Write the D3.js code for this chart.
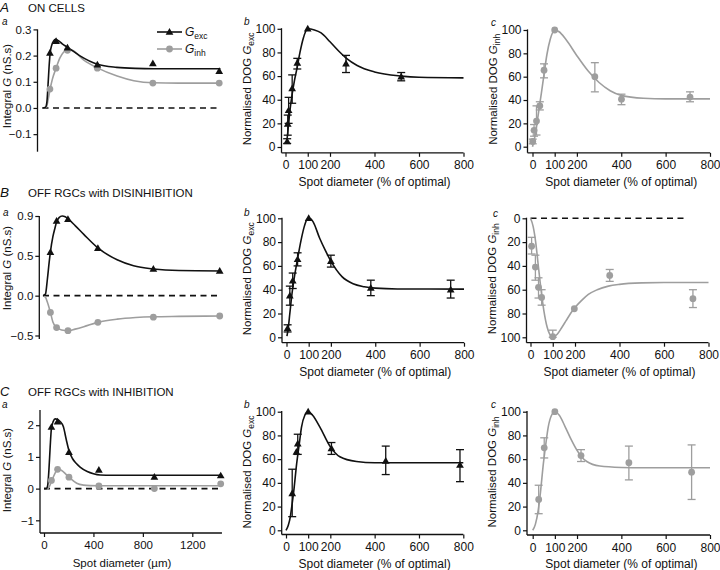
<!DOCTYPE html>
<html><head><meta charset="utf-8">
<script src="https://cdn.jsdelivr.net/npm/d3@7"></script>
<style>
body{margin:0;background:#fff}
svg text{font-family:"Liberation Sans",Arial,Helvetica,sans-serif;fill:#111}
</style></head><body>
<svg id="c" width="720" height="570"></svg>
<script>
// ---------- DATA ----------
const aDiam = [60, 110, 202, 444, 893, 1430];           // spot diameter (µm)
const umTicks = [0, 400, 800, 1200];
const pctTicks = [0, 100, 200, 400, 600, 800];
const normTicks = [0, 20, 40, 60, 80, 100];

// A: ON cells
const onATicks = [0.3, 0.2, 0.1, 0.0, -0.1];
const onATickLabels = ["0.3", "0.2", "0.1", "0.0", "\u22120.1"];
const onExc = [0.21, 0.255, 0.23, 0.165, 0.17, 0.14];
const onInh = [0.072, 0.152, 0.22, 0.152, 0.095, 0.095];
const onExcFit = [[0,0],[25,0.003],[35,0.02],[45,0.09],[55,0.17],[62,0.21],[75,0.24],[90,0.256],[105,0.262],[125,0.258],[160,0.245],[202,0.232],[300,0.2],[444,0.167],[600,0.155],[750,0.151],[900,0.15],[1440,0.15]];
const onInhFit = [[0,0],[30,0.003],[45,0.03],[60,0.068],[80,0.11],[110,0.152],[140,0.19],[170,0.213],[200,0.222],[240,0.22],[334,0.183],[444,0.153],[604,0.122],[739,0.104],[898,0.096],[1100,0.095],[1440,0.095]];
const onB_x = [7.5, 10, 14, 30, 53, 100, 272, 520];
const onB_y = [4.7, 19.5, 31, 49.5, 71, 100, 70.5, 59.5];
const onB_lo = [3, 10, 20, 37, 66, 100, 63, 56];
const onB_hi = [7, 27, 42, 61, 75, 100, 77.5, 63];
const onB_fit = [[5,3],[10,12],[15,22],[20,31],[30,45],[40,56],[52,67],[65,80],[80,92],[90,97.5],[100,100],[130,99],[160,96.5],[200,89],[240,81],[274,75],[322,69],[400,63.5],[520,60],[600,59],[800,58.5]];
const onC_x = [1, 7, 18, 33, 52, 100, 281, 401, 710];
const onC_y = [4.5, 14, 22, 35, 65.5, 100, 60, 40.7, 42.5];
const onC_lo = [2.5, 9, 10, 31.5, 59, 100, 47, 36, 38.5];
const onC_hi = [6.5, 19, 35, 38.5, 71, 100, 72, 45, 47];
const onC_fit = [[0,0],[10,8],[20,20],[30,33],[40,46],[52,62],[65,79],[80,92],[100,100],[120,98.5],[150,92],[200,78],[250,65],[300,55],[350,48],[400,44],[500,41.5],[600,41],[800,41]];

// B: OFF RGCs with disinhibition
const disATicks = [1.0, 0.5, 0.0, -0.5];
const disATickLabels = ["0.9", "0.5", "0.0", "\u22120.5"];
const disExc = [0.545, 0.938, 0.96, 0.595, 0.335, 0.31];
const disInh = [-0.21, -0.40, -0.44, -0.335, -0.27, -0.255];
const disExcFit = [[0,0],[20,0.02],[35,0.2],[50,0.42],[60,0.55],[80,0.74],[97,0.85],[111,0.93],[130,0.98],[155,1.0],[180,0.99],[205,0.96],[260,0.88],[330,0.77],[444,0.6],[600,0.45],[733,0.375],[893,0.335],[1100,0.315],[1440,0.31]];
const disInhFit = [[0,0],[20,-0.02],[35,-0.08],[60,-0.21],[80,-0.33],[110,-0.40],[150,-0.43],[205,-0.44],[260,-0.42],[330,-0.39],[444,-0.335],[600,-0.295],[750,-0.275],[893,-0.265],[1100,-0.26],[1440,-0.255]];
const disB_x = [5, 15, 28, 50, 100, 200, 380, 740];
const disB_y = [7.5, 35, 47.5, 65.5, 100, 64, 41.5, 40];
const disB_lo = [4.5, 27, 41, 60, 100, 59, 35, 33];
const disB_hi = [10.5, 43, 54, 71, 100, 69, 48, 48];
const disB_fit = [[2,1],[8,8],[15,20],[25,37],[35,50],[50,66],[65,81],[80,93],[92,99],[100,100],[110,99.5],[120,97],[150,83],[175,73],[200,64],[250,51],[300,45],[350,42.5],[400,41.3],[500,40.6],[800,40.5]];
const disC_x = [5, 22, 36, 50, 100, 197, 356, 730];
const disC_y = [23.5, 41, 58, 66.5, 99.5, 76, 48, 67.5];
const disC_lo = [16, 31, 50, 60, 94, 76, 43, 60];
const disC_hi = [30, 52, 67, 73, 100, 76, 53, 75];
const disC_fit = [[0,0],[12,7],[24,21],[34,38],[46,58],[60,77.5],[75,91.6],[95,99.5],[100,100],[120,97.5],[140,92],[160,86],[180,80],[200,75],[230,69],[260,64],[300,60],[350,57],[400,55.5],[500,54.3],[600,54],[800,54]];

// C: OFF RGCs with inhibition
const inhATicks = [2, 1, 0, -1];
const inhATickLabels = ["2", "1", "0", "\u22121"];
const inhExc = [1.94, 2.11, 1.15, 0.59, 0.37, 0.41];
const inhInh = [0.26, 0.61, 0.36, 0.085, 0.0, 0.15];
const inhExcFit = [[0,0],[20,0],[30,0.1],[40,0.6],[50,1.32],[60,1.9],[75,2.12],[90,2.2],[110,2.18],[130,2.12],[157,1.95],[180,1.55],[202,1.2],[230,0.95],[260,0.8],[292,0.68],[350,0.54],[400,0.47],[454,0.43],[550,0.42],[1440,0.42]];
const inhInhFit = [[0,0],[30,0],[45,0.08],[60,0.22],[75,0.36],[95,0.53],[116,0.61],[140,0.58],[184,0.43],[220,0.3],[265,0.17],[320,0.11],[373,0.095],[450,0.09],[1440,0.09]];
const cB_x = [28, 47, 53, 100, 205, 450, 785];
const cB_y = [31, 66, 73, 100, 69, 58.5, 55];
const cB_lo = [11.5, 66, 64, 100, 64, 47, 41];
const cB_hi = [51.5, 66, 81, 100, 74, 71, 68];
const cB_fit = [[0,0],[10,4],[20,12],[26,20],[35,33],[48,56],[60,73],[70,87],[85,97],[100,100],[120,97],[153,87],[198,71],[243,62],[318,58],[400,57],[800,57]];
const cC_x = [27, 52, 100, 218, 434, 717];
const cC_y = [26, 69.5, 100, 63, 57, 49];
const cC_lo = [14, 61, 100, 58, 42.5, 26];
const cC_hi = [38, 78, 100, 68, 71, 72];
const cC_fit = [[0,0],[12,5],[25,17],[35,32],[48,56],[60,74],[70,87],[85,97],[100,100],[120,97],[146,87.5],[175,76],[198,68],[220,62],[244,58],[303,54.2],[400,53],[500,52.7],[800,52.7]];

// ---------- DRAWING ----------
const svg = d3.select("#c");
const BLACK = "#111", GREY = "#9e9e9e";
const triSym = d3.symbol(d3.symbolTriangle, 26)();

function marker(g, type, x, y, col) {
  if (type === "tri") g.append("path").attr("d", triSym).attr("transform", `translate(${x},${y + 0.5})`).attr("fill", col);
  else g.append("circle").attr("cx", x).attr("cy", y).attr("r", 3.4).attr("fill", col);
}
function styleAxis(g, fs) {
  g.attr("font-size", fs).attr("color", BLACK).attr("font-family", null);
  g.select(".domain").remove();
  g.selectAll(".tick line").attr("stroke-width", 1.2);
}
function vline(x, y1, y2) { svg.append("line").attr("x1", x).attr("x2", x).attr("y1", y1).attr("y2", y2).attr("stroke", BLACK).attr("stroke-width", 1.3); }
function hline(y, x1, x2) { svg.append("line").attr("x1", x1).attr("x2", x2).attr("y1", y).attr("y2", y).attr("stroke", BLACK).attr("stroke-width", 1.3); }
function ylabel(x, y, parts, fs) {
  const t = svg.append("text").attr("transform", `translate(${x},${y}) rotate(-90)`).attr("text-anchor", "middle").attr("font-size", fs);
  parts.forEach(p => {
    const s = t.append("tspan").text(p.t);
    if (p.i) s.attr("font-style", "italic");
    if (p.sub) s.attr("font-size", 8.5).attr("dy", 3);
  });
}
function txt(x, y, s, size, italic, anchor) {
  const t = svg.append("text").attr("x", x).attr("y", y).attr("font-size", size).text(s);
  if (italic) t.attr("font-style", "italic");
  if (anchor) t.attr("text-anchor", anchor);
  return t;
}
const lineGen = (x, y) => d3.line().x(d => x(d[0])).y(d => y(d[1])).curve(d3.curveMonotoneX);

function panelA(c) {
  const x = d3.scaleLinear().domain([0, 1440]).range([c.x0, c.x0 + 1440 * 0.12358]);
  const y = d3.scaleLinear().domain(c.yDom).range(c.yRange);
  const gy = svg.append("g").attr("transform", `translate(${c.axisX},0)`)
    .call(d3.axisLeft(y).tickValues(c.ticks).tickSize(4).tickPadding(2).tickFormat((d, i) => c.labels[i]));
  styleAxis(gy, 11.5);
  vline(c.axisX, c.yRange[1], c.yRange[0]);
  if (c.showX) {
    const gx = svg.append("g").attr("transform", `translate(0,${c.yRange[0]})`)
      .call(d3.axisBottom(x).tickValues(umTicks).tickSize(4).tickPadding(4).tickFormat(d3.format("d")));
    styleAxis(gx, 11.5);
    hline(c.yRange[0], c.axisX, x(1440));
  }
  svg.append("line").attr("x1", x(0)).attr("x2", x(1440)).attr("y1", y(0)).attr("y2", y(0))
    .attr("stroke", BLACK).attr("stroke-width", 1.6).attr("stroke-dasharray", "6,4.5");
  const lg = lineGen(x, y);
  svg.append("path").attr("d", lg(c.inhFit)).attr("fill", "none").attr("stroke", GREY).attr("stroke-width", 1.6);
  svg.append("path").attr("d", lg(c.excFit)).attr("fill", "none").attr("stroke", BLACK).attr("stroke-width", 1.6);
  const g = svg.append("g");
  aDiam.forEach((d, i) => marker(g, "circ", x(d), y(c.inh[i]), GREY));
  aDiam.forEach((d, i) => marker(g, "tri", x(d), y(c.exc[i]), BLACK));
}

function panelN(c) {
  const x = d3.scaleLinear().domain([0, 800]).range([c.x0, c.x800]);
  const y = d3.scaleLinear().domain([0, 100]).range(c.invert ? [c.yTop, c.yBot] : [c.yBot, c.yTop]);
  const gy = svg.append("g").attr("transform", `translate(${c.axisX},0)`)
    .call(d3.axisLeft(y).tickValues(normTicks).tickSize(4).tickPadding(2));
  styleAxis(gy, 12);
  vline(c.axisX, c.yTop - 0.6, c.xAxisY);
  const gx = svg.append("g").attr("transform", `translate(0,${c.xAxisY})`)
    .call(d3.axisBottom(x).tickValues(pctTicks).tickSize(4).tickPadding(4));
  styleAxis(gx, 12);
  hline(c.xAxisY, c.axisX, c.x800);
  if (c.dashed) svg.append("line").attr("x1", x(0)).attr("x2", x(700)).attr("y1", y(0)).attr("y2", y(0))
    .attr("stroke", BLACK).attr("stroke-width", 1.6).attr("stroke-dasharray", "6,4.5");
  svg.append("path").attr("d", lineGen(x, y)(c.fit)).attr("fill", "none").attr("stroke", c.col).attr("stroke-width", 1.6);
  const g = svg.append("g");
  c.xs.forEach((d, i) => {
    if (c.hi[i] !== c.lo[i]) {
      const xx = x(d);
      g.append("line").attr("x1", xx).attr("x2", xx).attr("y1", y(c.lo[i])).attr("y2", y(c.hi[i])).attr("stroke", c.col).attr("stroke-width", 1.3);
      [c.lo[i], c.hi[i]].forEach(v => g.append("line").attr("x1", xx - 4).attr("x2", xx + 4).attr("y1", y(v)).attr("y2", y(v)).attr("stroke", c.col).attr("stroke-width", 1.3));
    }
  });
  c.xs.forEach((d, i) => marker(g, c.mk, x(d), y(c.ys[i]), c.col));
  const mid = (c.x0 + c.x800) / 2;
  txt(mid, c.xAxisY + 33, "Spot diameter (% of optimal)", 12, false, "middle");
  ylabel(c.axisX - 31, (c.yTop + c.yBot) / 2 + 1, [{t: "Normalised DOG "}, {t: "G", i: true}, {t: c.sub, sub: true}], 11.5);
}

// Row headers and panel letters
txt(0, 12, "A", 13.5, true); txt(28, 11.7, "ON CELLS", 11.5);
txt(0, 197, "B", 13.5, true); txt(28, 196.5, "OFF RGCs with DISINHIBITION", 11.5);
txt(0, 395.7, "C", 13, true); txt(28, 395.7, "OFF RGCs with INHIBITION", 11.5);
txt(2, 25, "a", 10, true); txt(244, 24.5, "b", 10, true); txt(491, 26, "c", 10, true);
txt(3, 215.5, "a", 10, true); txt(244, 216, "b", 10, true); txt(493, 217, "c", 10, true);
txt(2, 408, "a", 10, true); txt(244, 407.5, "b", 10, true); txt(491, 407.5, "c", 10, true);

// Panel A
panelA({axisX: 37.5, x0: 42.5, yDom: [-0.167, 0.3], yRange: [151.7, 29.4], ticks: onATicks, labels: onATickLabels,
  exc: onExc, inh: onInh, excFit: onExcFit, inhFit: onInhFit, showX: false});
ylabel(10.5, 86, [{t: "Integral "}, {t: "G", i: true}, {t: " (nS.s)"}], 11.5);
// legend
svg.append("line").attr("x1", 157).attr("x2", 182).attr("y1", 32).attr("y2", 32).attr("stroke", BLACK).attr("stroke-width", 1.6);
marker(svg, "tri", 169.5, 32, BLACK);
svg.append("line").attr("x1", 157).attr("x2", 182).attr("y1", 49).attr("y2", 49).attr("stroke", GREY).attr("stroke-width", 1.6);
marker(svg, "circ", 169.5, 49, GREY);
{ const t = txt(185, 36, "", 12); t.append("tspan").attr("font-style", "italic").text("G"); t.append("tspan").attr("font-size", 8.5).attr("dy", 3).text("exc"); }
{ const t = txt(185, 53, "", 12); t.append("tspan").attr("font-style", "italic").text("G"); t.append("tspan").attr("font-size", 8.5).attr("dy", 3).text("inh"); }

panelN({axisX: 281.5, x0: 285.5, x800: 463.5, yTop: 28.8, yBot: 147, xAxisY: 152.8, col: BLACK, mk: "tri", sub: "exc",
  xs: onB_x, ys: onB_y, lo: onB_lo, hi: onB_hi, fit: onB_fit});
panelN({axisX: 527.5, x0: 532.5, x800: 710, yTop: 30, yBot: 146.7, xAxisY: 152.8, col: GREY, mk: "circ", sub: "inh",
  xs: onC_x, ys: onC_y, lo: onC_lo, hi: onC_hi, fit: onC_fit});

// Panel B
panelA({axisX: 39.3, x0: 43, yDom: [-0.544, 1.0], yRange: [339, 216], ticks: disATicks, labels: disATickLabels,
  exc: disExc, inh: disInh, excFit: disExcFit, inhFit: disInhFit, showX: false});
ylabel(10.5, 268, [{t: "Integral "}, {t: "G", i: true}, {t: " (nS.s)"}], 11.5);
panelN({axisX: 282, x0: 286.5, x800: 464, yTop: 218.3, yBot: 337.3, xAxisY: 342.7, col: BLACK, mk: "tri", sub: "exc",
  xs: disB_x, ys: disB_y, lo: disB_lo, hi: disB_hi, fit: disB_fit});
panelN({axisX: 526.5, x0: 530.5, x800: 708.5, yTop: 218.3, yBot: 337.3, xAxisY: 342.7, col: GREY, mk: "circ", sub: "inh", invert: true, dashed: true,
  xs: disC_x, ys: disC_y, lo: disC_lo, hi: disC_hi, fit: disC_fit});

// Panel C
panelA({axisX: 40, x0: 44, yDom: [-1.4, 2.48], yRange: [533, 410], ticks: inhATicks, labels: inhATickLabels,
  exc: inhExc, inh: inhInh, excFit: inhExcFit, inhFit: inhInhFit, showX: true});
ylabel(10.5, 470, [{t: "Integral "}, {t: "G", i: true}, {t: " (nS.s)"}], 11.5);
txt(122, 566.5, "Spot diameter (\u00b5m)", 11.5, false, "middle");
panelN({axisX: 281.7, x0: 286, x800: 463.3, yTop: 411.7, yBot: 530.3, xAxisY: 534.5, col: BLACK, mk: "tri", sub: "exc",
  xs: cB_x, ys: cB_y, lo: cB_lo, hi: cB_hi, fit: cB_fit});
panelN({axisX: 527, x0: 532.7, x800: 710, yTop: 411.7, yBot: 530.3, xAxisY: 535, col: GREY, mk: "circ", sub: "inh",
  xs: cC_x, ys: cC_y, lo: cC_lo, hi: cC_hi, fit: cC_fit});
</script>
</body></html>
